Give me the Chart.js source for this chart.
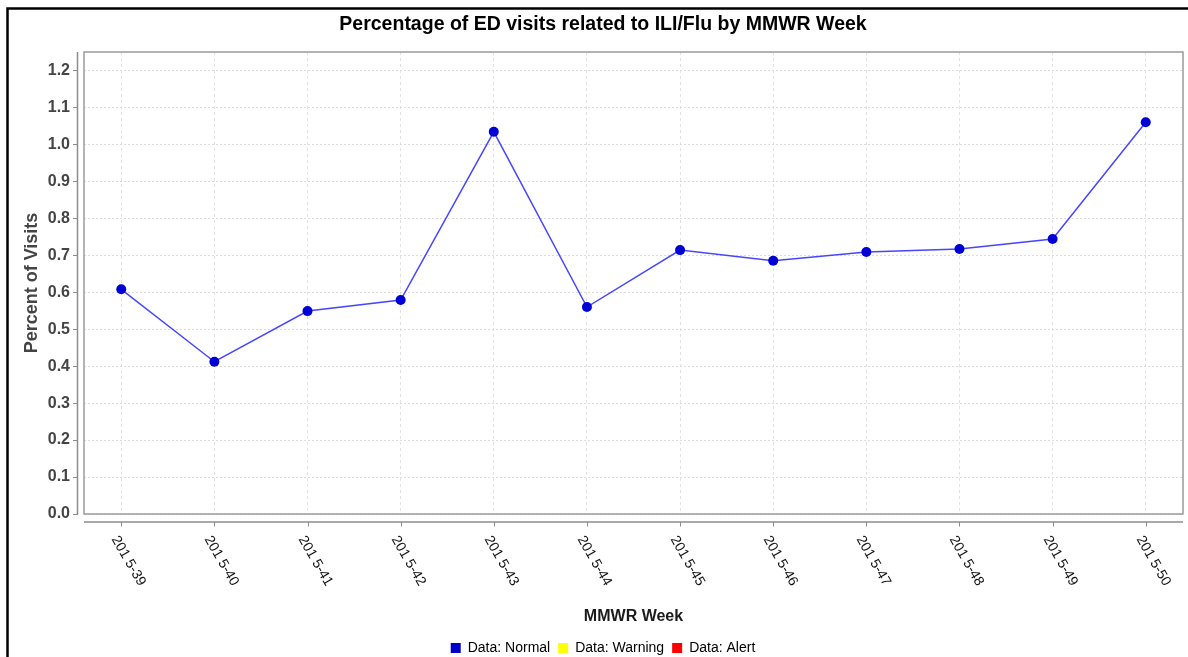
<!DOCTYPE html>
<html>
<head>
<meta charset="utf-8">
<script src="https://cdn.jsdelivr.net/npm/chart.js@4.4.1/dist/chart.umd.min.js"></script>
<style>
  html, body { margin: 0; padding: 0; background: #ffffff; }
  canvas { display: block; }
</style>
</head>
<body>
<canvas id="c" width="1188" height="657"></canvas>
<script>
// ---- data ----
const weekLabels = ['201 5-39', '201 5-40', '201 5-41', '201 5-42', '201 5-43', '201 5-44',
                    '201 5-45', '201 5-46', '201 5-47', '201 5-48', '201 5-49', '201 5-50'];
const percentValues = [0.608, 0.412, 0.549, 0.579, 1.034, 0.560, 0.714, 0.685, 0.709, 0.717, 0.744, 1.060];
const yTickValues = [0.0, 0.1, 0.2, 0.3, 0.4, 0.5, 0.6, 0.7, 0.8, 0.9, 1.0, 1.1, 1.2];
const legendNames = ['Data: Normal', 'Data: Warning', 'Data: Alert'];
const legendColors = ['#0000cc', '#ffff00', '#ff0000'];
const chartTitle = 'Percentage of ED visits related to ILI/Flu by MMWR Week';
const xAxisTitle = 'MMWR Week';
const yAxisTitle = 'Percent of Visits';

const FONT = '"Liberation Sans", Arial, Helvetica, sans-serif';

const decor = {
  id: 'decor',
  beforeDraw(chart) {
    const { ctx, width, height } = chart;
    ctx.save();
    ctx.fillStyle = '#ffffff';
    ctx.fillRect(0, 0, width, height);
    ctx.restore();
  },
  beforeDatasetsDraw(chart) {
    const { ctx, chartArea: a } = chart;
    ctx.save();
    ctx.strokeStyle = '#9a9a9a';
    ctx.lineWidth = 1.5;
    ctx.strokeRect(a.left, a.top, a.right - a.left, a.bottom - a.top);
    ctx.restore();
  },
  afterDraw(chart) {
    const { ctx, chartArea: a, scales } = chart;
    const xs = scales.x, ys = scales.y;
    ctx.save();
    // outer border of the picture
    ctx.strokeStyle = '#000000';
    ctx.lineWidth = 2.5;
    ctx.beginPath();
    ctx.moveTo(7.5, chart.height);
    ctx.lineTo(7.5, 8.5);
    ctx.lineTo(chart.width, 8.5);
    ctx.stroke();

    // y axis line + ticks
    const yAxisX = a.left - 6.5;
    ctx.strokeStyle = '#8c8c8c';
    ctx.lineWidth = 1.5;
    ctx.beginPath();
    ctx.moveTo(yAxisX, a.top);
    ctx.lineTo(yAxisX, a.bottom + 1);
    ctx.stroke();
    ctx.lineWidth = 1;
    yTickValues.forEach(v => {
      const py = Math.round(ys.getPixelForValue(v)) + 0.5;
      ctx.beginPath();
      ctx.moveTo(yAxisX - 4.5, py);
      ctx.lineTo(yAxisX, py);
      ctx.stroke();
    });

    // x axis line + ticks + rotated labels
    const xAxisY = a.bottom + 8;
    ctx.lineWidth = 1.5;
    ctx.beginPath();
    ctx.moveTo(a.left, xAxisY);
    ctx.lineTo(a.right, xAxisY);
    ctx.stroke();
    ctx.lineWidth = 1;
    ctx.font = '14px ' + FONT;
    ctx.fillStyle = '#111111';
    ctx.textAlign = 'left';
    ctx.textBaseline = 'middle';
    weekLabels.forEach((lab, i) => {
      const px = Math.round(xs.getPixelForValue(i)) + 0.5;
      ctx.beginPath();
      ctx.moveTo(px, xAxisY);
      ctx.lineTo(px, xAxisY + 4.5);
      ctx.stroke();
      ctx.save();
      ctx.translate(px - 7, xAxisY + 15);
      ctx.rotate(Math.PI / 3);
      ctx.fillText(lab, 0, 0);
      ctx.restore();
    });

    // axis titles
    ctx.font = 'bold 16px ' + FONT;
    ctx.fillStyle = '#1a1a1a';
    ctx.textAlign = 'center';
    ctx.textBaseline = 'middle';
    ctx.fillText(xAxisTitle, (a.left + a.right) / 2, 617);

    ctx.save();
    ctx.font = 'bold 18px ' + FONT;
    ctx.fillStyle = '#444444';
    ctx.translate(32, (a.top + a.bottom) / 2);
    ctx.rotate(-Math.PI / 2);
    ctx.fillText(yAxisTitle, 0, 0);
    ctx.restore();

    ctx.restore();
  }
};

const datasets = [
  {
    label: legendNames[0],
    data: percentValues.map((v, i) => ({ x: i, y: v })),
    borderColor: '#4646ff',
    backgroundColor: legendColors[0],
    borderWidth: 1.5,
    pointRadius: 5,
    pointHoverRadius: 5,
    pointBackgroundColor: '#0000d6',
    pointBorderWidth: 0,
    tension: 0
  },
  { label: legendNames[1], data: [], backgroundColor: legendColors[1], borderColor: legendColors[1] },
  { label: legendNames[2], data: [], backgroundColor: legendColors[2], borderColor: legendColors[2] }
];

new Chart(document.getElementById('c'), {
  type: 'line',
  data: { datasets },
  options: {
    responsive: false,
    animation: false,
    events: [],
    layout: { padding: { left: 22, right: 4, top: 0, bottom: -8 } },
    plugins: {
      tooltip: { enabled: false },
      title: {
        display: true,
        text: chartTitle,
        color: '#000000',
        font: { family: FONT, size: 19.5, weight: 'bold', lineHeight: 1.2 },
        padding: { top: 13, bottom: 15.6 }
      },
      legend: {
        position: 'bottom',
        labels: {
          boxWidth: 10,
          boxHeight: 10,
          padding: 8,
          color: '#222222',
          font: { family: FONT, size: 14 },
          generateLabels: () => legendNames.map((n, i) => ({
            text: n,
            fillStyle: legendColors[i],
            strokeStyle: legendColors[i],
            lineWidth: 0,
            hidden: false,
            datasetIndex: i
          }))
        }
      }
    },
    scales: {
      x: {
        type: 'linear',
        min: -0.4,
        max: weekLabels.length - 0.6,
        afterBuildTicks: s => { s.ticks = weekLabels.map((_, i) => ({ value: i })); },
        afterFit: s => { s.height = 119; },
        ticks: { display: false },
        grid: { color: '#e2e2e2', lineWidth: 1, drawTicks: false },
        border: { display: false, dash: [3, 3] }
      },
      y: {
        type: 'linear',
        min: 0,
        max: 1.25,
        afterBuildTicks: s => { s.ticks = yTickValues.map(v => ({ value: v })); },
        afterFit: s => { s.width = 62; },
        ticks: {
          padding: 14,
          color: '#444444',
          font: { family: FONT, size: 16, weight: 'bold' },
          callback: v => Number(v).toFixed(1)
        },
        grid: { color: '#dcdcdc', lineWidth: 1, drawTicks: false },
        border: { display: false, dash: [2, 2] }
      }
    }
  },
  plugins: [decor]
});
</script>
</body>
</html>
